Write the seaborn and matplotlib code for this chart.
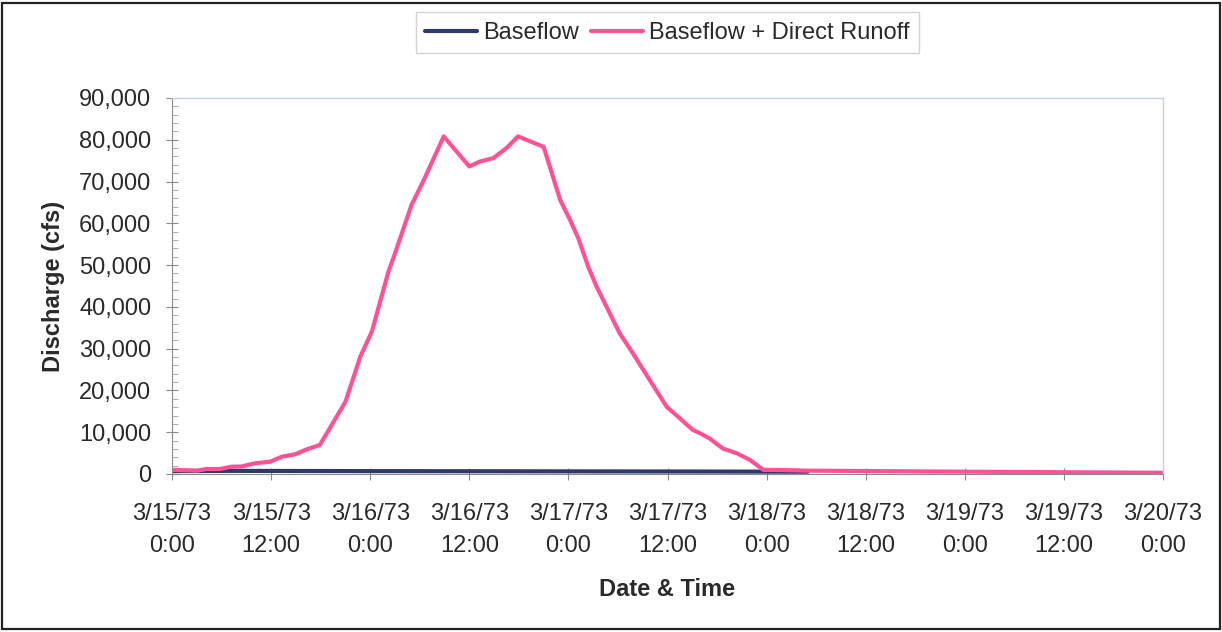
import matplotlib
matplotlib.use("Agg")
import matplotlib.pyplot as plt
import matplotlib.ticker as mticker
from matplotlib.patches import Rectangle
import pandas as pd
import seaborn as sb

# hydrograph data (hours after 3/15/73 0:00, discharge in cfs)
start = pd.Timestamp("1973-03-15 00:00")

base_hours = [0, 7, 20, 40, 60, 77]
base_cfs = [700, 750, 700, 650, 600, 550]

total_hours = [0, 3, 4.2, 5.8, 7.2, 8.4, 10, 11.9, 13.3, 14.9, 16.3, 17.9,
               21, 22.8, 24.2, 26.2, 27, 29, 30.5, 32.9, 36, 37.3, 38.9,
               40.5, 41.9, 45, 47, 48.2, 49.2, 50.4, 51.4, 52.6, 54.2, 55.8,
               58.1, 59.9, 63.1, 64, 65.1, 66.7, 68.4, 70, 71.6, 73.6, 77.2,
               96, 120]
total_cfs = [1000, 800, 1200, 1200, 1750, 1800, 2550, 2950, 4150, 4700, 5900,
             6950, 17300, 28100, 34100, 48400, 52800, 64400, 70400, 80800,
             73600, 74800, 75600, 78000, 80800, 78300, 65600, 60800, 56400,
             49600, 44900, 40100, 33700, 28900, 21700, 16100, 10500, 9700,
             8500, 6100, 4950, 3350, 1000, 950, 800, 550, 300]

tick_labels = ["3/15/73\n0:00", "3/15/73\n12:00", "3/16/73\n0:00",
               "3/16/73\n12:00", "3/17/73\n0:00", "3/17/73\n12:00",
               "3/18/73\n0:00", "3/18/73\n12:00", "3/19/73\n0:00",
               "3/19/73\n12:00", "3/20/73\n0:00"]

base = pd.DataFrame({"time": start + pd.to_timedelta(base_hours, unit="h"),
                     "cfs": base_cfs})
total = pd.DataFrame({"time": start + pd.to_timedelta(total_hours, unit="h"),
                      "cfs": total_cfs})

sb.set_style("white")
plt.rcParams["font.family"] = ["Liberation Sans", "DejaVu Sans"]
txt = "#2a2a2a"
fs = 17

fig = plt.figure(figsize=(12.22, 6.32), dpi=100)
ax = fig.add_axes([0.1408, 0.25, 0.8109, 0.595])

sb.lineplot(x="time", y="cfs", data=base, color="#2e3a6c", lw=3,
            label="Baseflow", ax=ax)
sb.lineplot(x="time", y="cfs", data=total, color="#ff5294", lw=3,
            label="Baseflow + Direct Runoff", ax=ax)

ticks = pd.date_range(start, periods=len(tick_labels), freq="12h")
ax.set_xlim(ticks[0], ticks[-1])
ax.set_xticks(ticks)
ax.set_xticklabels(tick_labels, fontsize=fs, color=txt, linespacing=1.6)
ax.set_ylim(0, 90000)
ax.yaxis.set_major_locator(mticker.MultipleLocator(10000))
ax.yaxis.set_minor_locator(mticker.MultipleLocator(2000))
ax.yaxis.set_major_formatter(mticker.StrMethodFormatter("{x:,.0f}"))
ax.tick_params(axis="y", labelsize=fs, labelcolor=txt)
ax.tick_params(axis="both", which="major", direction="inout", length=8,
               width=0.8, color="#8a8a8a", left=True, bottom=True)
ax.tick_params(axis="x", which="major", pad=17)
ax.tick_params(axis="y", which="major", pad=11)
ax.tick_params(axis="y", which="minor", direction="in", length=4,
               width=0.6, color="#a0a0a0", left=True)

ax.set_xlabel("Date & Time", fontsize=fs, fontweight="bold", color=txt,
              labelpad=15)
ax.set_ylabel("Discharge (cfs)", fontsize=fs, fontweight="bold", color=txt,
              labelpad=10)

for s in ["left", "bottom"]:
    ax.spines[s].set_color("#8a8a8a")
    ax.spines[s].set_linewidth(0.8)
for s in ["top", "right"]:
    ax.spines[s].set_color("#c4d4e2")
    ax.spines[s].set_linewidth(1)

ax.legend(loc="center", bbox_to_anchor=(0.546, 0.948),
          bbox_transform=fig.transFigure, ncol=2, fontsize=fs,
          frameon=True, fancybox=False, edgecolor="#c8c8c8",
          handlelength=2.2, handletextpad=0.25, columnspacing=0.5,
          borderpad=0.4, labelcolor=txt)

fig.patches.append(Rectangle((0.002, 0.004), 0.996, 0.992,
                             transform=fig.transFigure, fill=False,
                             edgecolor="#222222", lw=1.6))

fig.savefig("out.png", dpi=100)
